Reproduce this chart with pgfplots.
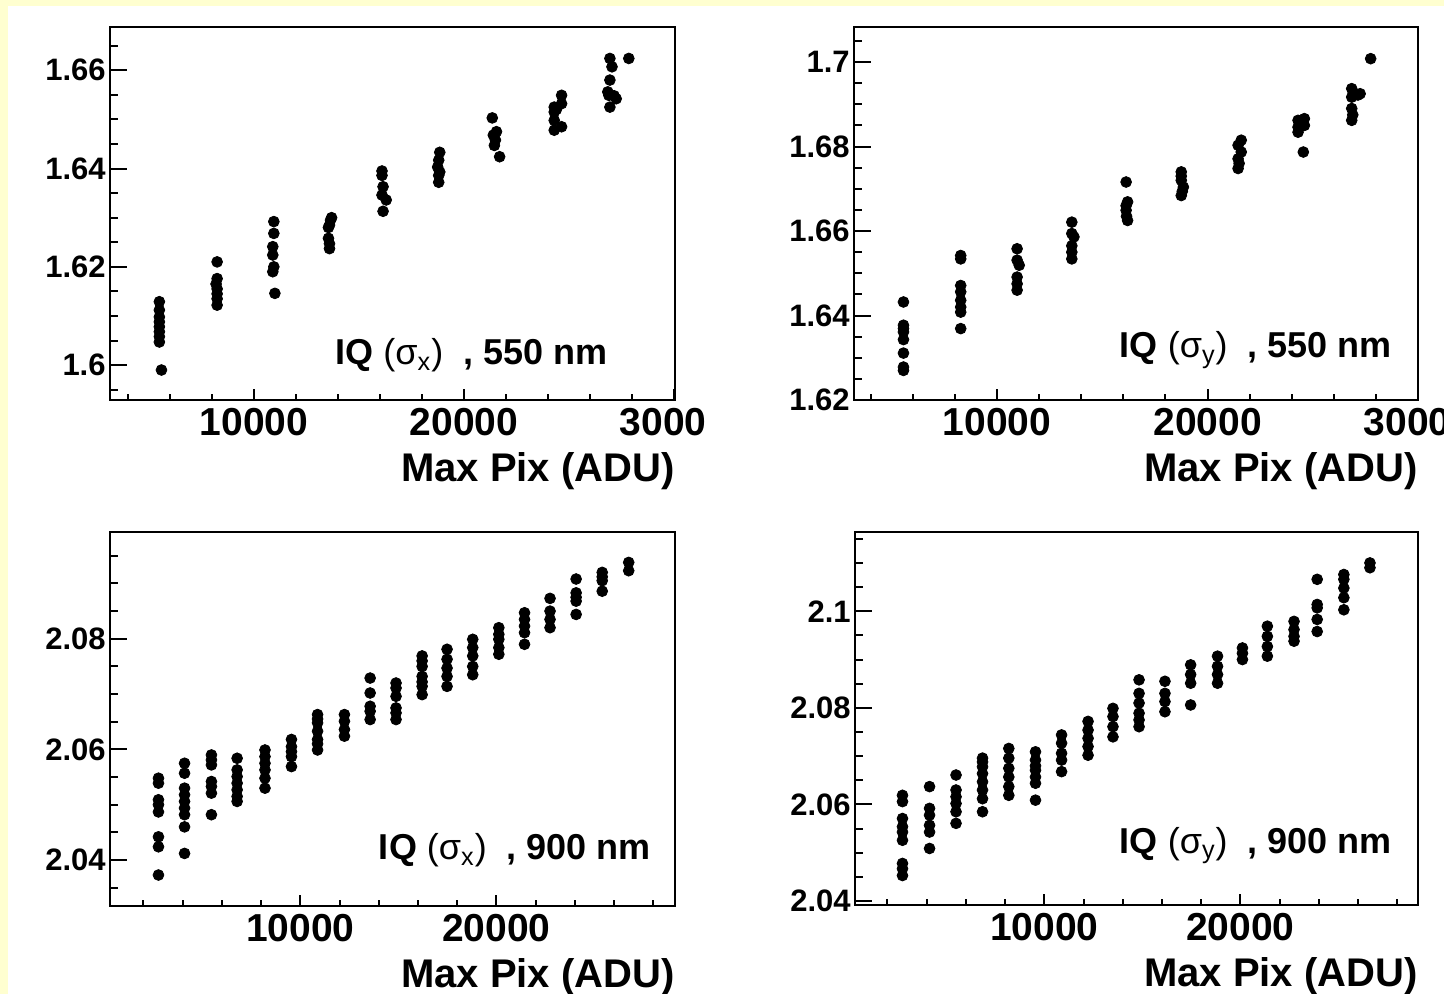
\documentclass[border=0pt]{standalone}
\usepackage{fontspec}
\setmainfont{Liberation Sans}
\usepackage{pgfplots}
\pgfplotsset{compat=1.18}
\definecolor{bgyellow}{RGB}{255,255,208}
\pgfplotsset{
  rootaxis/.style={
    scale only axis,
    anchor=south west,
    axis line style={line width=1pt},
    tick align=inside,
    xtick pos=bottom, ytick pos=left,
    minor x tick num=4, minor y tick num=3,
    major tick length=7pt, minor tick length=3.5pt,
    tick style={black, line width=1pt},
    xtick style={/pgfplots/major tick length=5.5pt, /pgfplots/minor tick length=2.75pt},
    ytick style={/pgfplots/major tick length=8.5pt, /pgfplots/minor tick length=4pt},
    scaled x ticks=false,
    /pgf/number format/assume math mode=true,
    /pgf/number format/1000 sep={},
    xticklabel style={font=\fontsize{19.5}{19.5}\selectfont\bfseries, inner sep=1pt, yshift=-3pt},
    yticklabel style={font=\fontsize{15.5}{15.5}\selectfont\bfseries, inner sep=1pt, xshift=-1pt},
    xlabel={Max Pix (ADU)},
    xlabel style={at={(axis description cs:1,0)}, anchor=base east, yshift=-41pt, inner sep=0pt,
      font=\fontsize{20}{20}\selectfont\bfseries},
  },
  dots/.style={only marks, mark=*, mark size=2.7pt, black},
}
\newcommand\ttl[2]{{\fontsize{18}{18}\selectfont\bfseries IQ \mdseries(σ\textsubscript{#1})\ \ \bfseries, #2 nm}}
\begin{document}
\begin{tikzpicture}
\path[use as bounding box] (0pt,0pt) rectangle (722pt,497pt);
\clip (0pt,0pt) rectangle (722pt,497pt);
\fill[bgyellow] (0pt,0pt) rectangle (722pt,497pt);
\fill[white] (4pt,0pt) rectangle (722pt,494pt);

\begin{scope}
\clip (0pt,0pt) rectangle (352.5pt,497pt);
% ---------- top left ----------
\begin{axis}[rootaxis, at={(55pt,297pt)}, width=282.5pt, height=186.5pt,
  xmin=3150, xmax=30050, ymin=1.5929, ymax=1.6688,
  xtick={0,10000,20000,30000}, ytick={1.58,1.6,1.62,1.64,1.66,1.68}]
\addplot[dots] coordinates {
 (5500,1.6129) (5500,1.6112) (5500,1.6098) (5500,1.6088) (5500,1.6078) (5500,1.6068) (5500,1.6058) (5500,1.6047) (5600,1.5990)
 (8250,1.6210) (8250,1.6176) (8200,1.6165) (8250,1.6155) (8250,1.6145) (8250,1.6135) (8250,1.6122)
 (10950,1.6292) (10950,1.6268) (10900,1.6241) (10900,1.6224) (10950,1.6200) (10900,1.6190) (11000,1.6146)
 (13700,1.6300) (13650,1.6295) (13600,1.6285) (13550,1.6280) (13550,1.6258) (13600,1.6247) (13600,1.6237)
 (16100,1.6395) (16100,1.6386) (16150,1.6363) (16100,1.6346) (16300,1.6336) (16150,1.6313)
 (18850,1.6433) (18800,1.6417) (18750,1.6403) (18850,1.6393) (18800,1.6386) (18800,1.6372)
 (21350,1.6503) (21550,1.6475) (21400,1.6468) (21500,1.6458) (21450,1.6447) (21700,1.6424)
 (24650,1.6549) (24650,1.6532) (24300,1.6525) (24400,1.6520) (24300,1.6515) (24300,1.6498) (24650,1.6485) (24300,1.6478)
 (26950,1.6624) (27050,1.6607) (26950,1.6580) (26850,1.6556) (26900,1.6549) (26950,1.6525) (27250,1.6542) (27150,1.6548)
 (27850,1.6624)
};
\node[anchor=base east, inner sep=0pt] at (rel axis cs:0.881,0.094) {\ttl{x}{550}};
\end{axis}

% ---------- bottom left ----------
\begin{axis}[rootaxis, at={(55pt,44pt)}, width=282.5pt, height=187pt,
  xmin=300, xmax=29100, ymin=2.0317, ymax=2.0993,
  xtick={0,10000,20000,30000}, ytick={2.02,2.04,2.06,2.08,2.10}]
\addplot[dots] coordinates {
 (2770,2.0548) (2770,2.0539) (2770,2.0509) (2770,2.0500) (2770,2.0487) (2770,2.0442) (2770,2.0424) (2770,2.0373)
 (4100,2.0575) (4100,2.0557) (4100,2.0530) (4100,2.0518) (4100,2.0506) (4100,2.0494) (4100,2.0482) (4100,2.0460) (4100,2.0412)
 (5470,2.0590) (5470,2.0581) (5470,2.0572) (5470,2.0542) (5470,2.0533) (5470,2.0521) (5470,2.0482)
 (6780,2.0584) (6780,2.0563) (6780,2.0551) (6780,2.0539) (6780,2.0527) (6780,2.0515) (6780,2.0506)
 (8200,2.0599) (8200,2.0587) (8200,2.0575) (8200,2.0563) (8200,2.0548) (8200,2.0530)
 (9550,2.0618) (9550,2.0605) (9550,2.0587) (9550,2.0569) (9550,2.0596)
 (10880,2.0663) (10880,2.0648) (10880,2.0633) (10880,2.0618) (10880,2.0599) (10880,2.0655) (10880,2.0610)
 (12250,2.0663) (12250,2.0651) (12250,2.0636) (12250,2.0624)
 (13560,2.0729) (13560,2.0702) (13560,2.0678) (13560,2.0669) (13560,2.0654)
 (14880,2.0720) (14880,2.0711) (14880,2.0696) (14880,2.0675) (14880,2.0666) (14880,2.0654)
 (16210,2.0769) (16210,2.0750) (16210,2.0732) (16210,2.0714) (16210,2.0699) (16210,2.0760) (16210,2.0722)
 (17480,2.0781) (17480,2.0763) (17480,2.0747) (17480,2.0732) (17480,2.0714)
 (18790,2.0799) (18790,2.0784) (18790,2.0769) (18790,2.0750) (18790,2.0735)
 (20120,2.0820) (20120,2.0808) (20120,2.0799) (20120,2.0784) (20120,2.0772)
 (21430,2.0847) (21430,2.0835) (21430,2.0823) (21430,2.0811) (21430,2.0790)
 (22730,2.0873) (22730,2.0850) (22730,2.0835) (22730,2.0820)
 (24060,2.0908) (24060,2.0883) (24060,2.0868) (24060,2.0844) (24060,2.0875)
 (25390,2.0920) (25390,2.0905) (25390,2.0886) (25390,2.0912)
 (26740,2.0938) (26740,2.0923)
};
\node[anchor=base east, inner sep=0pt] at (rel axis cs:0.958,0.123) {\ttl{x}{900}};
\end{axis}
\end{scope}

% ---------- top right ----------
\begin{axis}[rootaxis, at={(427pt,297pt)}, width=282pt, height=186.5pt,
  xmin=3200, xmax=30000, ymin=1.62, ymax=1.7083,
  xtick={0,10000,20000,30000}, ytick={1.60,1.62,1.64,1.66,1.68,1.70,1.72}]
\addplot[dots] coordinates {
 (5550,1.6432) (5550,1.6377) (5550,1.6369) (5550,1.6361) (5550,1.6343) (5550,1.6311) (5550,1.6278) (5550,1.6270)
 (8270,1.6542) (8270,1.6534) (8270,1.6471) (8270,1.6456) (8270,1.6436) (8270,1.6420) (8270,1.6408) (8270,1.6369)
 (10950,1.6558) (10950,1.6531) (11050,1.6519) (10950,1.6491) (10950,1.6475) (10950,1.6460)
 (13550,1.6621) (13550,1.6594) (13650,1.6586) (13550,1.6550) (13550,1.6534) (13550,1.6565)
 (16130,1.6716) (16200,1.6669) (16130,1.6649) (16200,1.6625) (16130,1.6660) (16150,1.6635)
 (18750,1.6740) (18750,1.6720) (18850,1.6704) (18750,1.6684) (18750,1.6730) (18800,1.6694)
 (21600,1.6815) (21450,1.6803) (21600,1.6787) (21450,1.6771) (21450,1.6748) (21500,1.6760)
 (24300,1.6862) (24300,1.6846) (24300,1.6834) (24600,1.6866) (24600,1.6850) (24550,1.6787)
 (26850,1.6937) (26850,1.6917) (26850,1.6890) (26850,1.6862) (27250,1.6925) (27150,1.6922) (26900,1.6875)
 (27750,1.7008)
};
\node[anchor=base east, inner sep=0pt] at (rel axis cs:0.954,0.113) {\ttl{y}{550}};
\end{axis}

% ---------- bottom right ----------
\begin{axis}[rootaxis, at={(427.5pt,44.5pt)}, width=281.5pt, height=186.5pt,
  xmin=350, xmax=29050, ymin=2.0392, ymax=2.1164,
  xtick={0,10000,20000,30000}, ytick={2.02,2.04,2.06,2.08,2.10,2.12}]
\addplot[dots] coordinates {
 (2770,2.0619) (2770,2.0606) (2770,2.0571) (2770,2.0554) (2770,2.0543) (2770,2.0526) (2770,2.0478) (2770,2.0467) (2770,2.0453)
 (4150,2.0637) (4150,2.0592) (4150,2.0578) (4150,2.0557) (4150,2.0543) (4150,2.0509)
 (5500,2.0661) (5500,2.0630) (5500,2.0616) (5500,2.0602) (5500,2.0585) (5500,2.0561)
 (6850,2.0696) (6850,2.0688) (6850,2.0678) (6850,2.0664) (6850,2.0647) (6850,2.0630) (6850,2.0612) (6850,2.0585)
 (8190,2.0716) (8190,2.0696) (8190,2.0675) (8190,2.0657) (8190,2.0637) (8190,2.0619)
 (9550,2.0709) (9550,2.0692) (9550,2.0680) (9550,2.0671) (9550,2.0657) (9550,2.0644) (9550,2.0609)
 (10880,2.0744) (10880,2.0727) (10880,2.0706) (10880,2.0692) (10880,2.0668)
 (12230,2.0772) (12230,2.0754) (12230,2.0737) (12230,2.0720) (12230,2.0702)
 (13500,2.0799) (13500,2.0782) (13500,2.0761) (13500,2.0740)
 (14830,2.0858) (14830,2.0830) (14830,2.0810) (14830,2.0789) (14830,2.0775) (14830,2.0761)
 (16150,2.0855) (16150,2.0830) (16150,2.0813) (16150,2.0792)
 (17460,2.0889) (17460,2.0869) (17460,2.0851) (17460,2.0806)
 (18830,2.0907) (18830,2.0886) (18830,2.0869) (18830,2.0851)
 (20100,2.0924) (20100,2.0913) (20100,2.0900)
 (21370,2.0969) (21370,2.0948) (21370,2.0927) (21370,2.0907)
 (22730,2.0979) (22730,2.0962) (22730,2.0948) (22730,2.0938)
 (23910,2.1066) (23910,2.1014) (23910,2.1007) (23910,2.0983) (23910,2.0958)
 (25270,2.1076) (25270,2.1066) (25270,2.1048) (25270,2.1028) (25270,2.1003)
 (26600,2.1100) (26600,2.1090)
};
\node[anchor=base east, inner sep=0pt] at (rel axis cs:0.954,0.139) {\ttl{y}{900}};
\end{axis}
\end{tikzpicture}
\end{document}
